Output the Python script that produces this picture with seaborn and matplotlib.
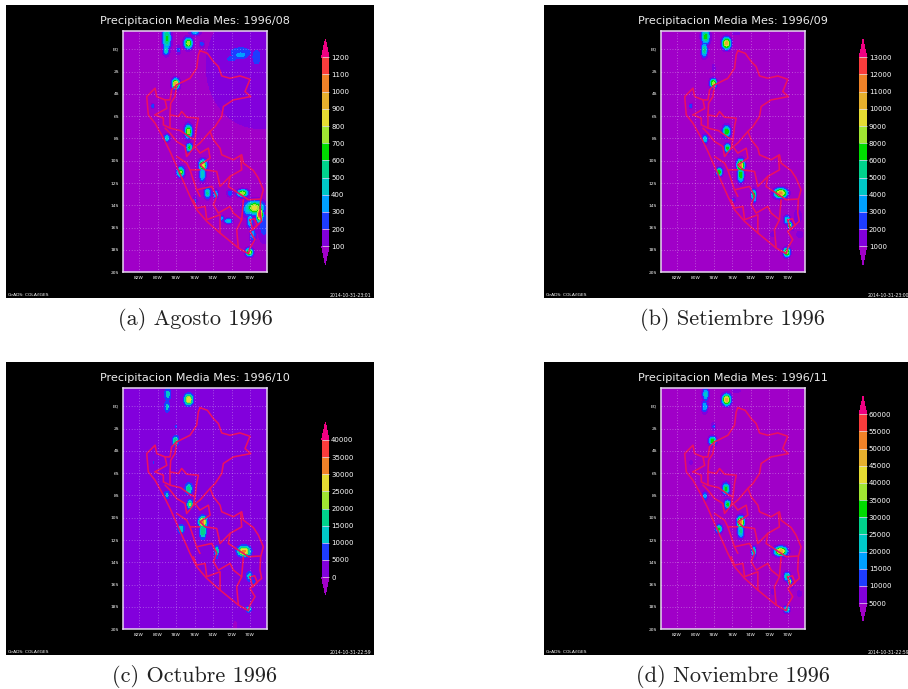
import numpy as np
import matplotlib
matplotlib.use('Agg')
import matplotlib.pyplot as plt
import seaborn as sns

W, H = 908, 689
# GrADS default rainbow
rainbow = ['#a000c8', '#8200dc', '#1e3cff', '#00a0ff', '#00c8c8', '#00d28c', '#00dc00',
           '#a0e632', '#e6dc32', '#e6af2d', '#f08228', '#fa3c3c', '#f00082']
rainbow_oct = ['#a000c8', '#8200dc', '#1e3cff', '#00c8c8', '#00d28c', '#a0e632',
               '#e6dc32', '#f08228', '#fa3c3c', '#f00082']
border_color = '#ec1060'

# month labels
titles = ['Precipitacion Media Mes: 1996/08', 'Precipitacion Media Mes: 1996/09',
          'Precipitacion Media Mes: 1996/10', 'Precipitacion Media Mes: 1996/11']
captions = ['(a) Agosto 1996', '(b) Setiembre 1996', '(c) Octubre 1996', '(d) Noviembre 1996']
stamps = ['2014-10-31-23:01', '2014-10-31-23:00', '2014-10-31-22:59', '2014-10-31-22:59']

# colorbar levels as printed
levels_aug = [100, 200, 300, 400, 500, 600, 700, 800, 900, 1000, 1100, 1200]
levels_sep = [1000, 2000, 3000, 4000, 5000, 6000, 8000, 9000, 10000, 11000, 12000, 13000]
levels_oct = [0, 5000, 10000, 15000, 20000, 25000, 30000, 35000, 40000]
levels_nov = [5000, 10000, 15000, 20000, 25000, 30000, 35000, 40000, 45000, 50000, 55000, 60000]

# background rain per month
base_aug, base_sep, base_oct, base_nov = 50, 500, 1500, 2500

# rain cells: lon, lat, peak, width lon, width lat
cells_aug = [(-79.0, 1.0, 620, .28, .7), (-79.08, -.06, 480, .2, .31), (-76.67, .54, 800, .28, .31),
             (-75.95, 1.5, 360, .35, .17), (-75.2, .48, 250, .17, .21), (-77.75, -.06, 230, .17, .28),
             (-78.04, -3.1, 1000, .24, .28), (-80.52, -5.07, 300, .1, .14), (-76.67, -7.37, 800, .24, .38),
             (-76.56, -8.8, 620, .2, .24), (-79.0, -7.97, 450, .2, .21), (-75.1, -10.4, 900, .25, .31),
             (-75.15, -11.2, 500, .2, .42), (-77.5, -11.0, 720, .24, .28), (-74.6, -12.9, 520, .21, .31),
             (-73.7, -13.0, 420, .17, .24), (-72.16, -12.9, 280, .2, .2), (-70.8, -12.9, 800, .36, .2),
             (-75.95, -13.6, 230, .14, .28), (-69.5, -14.2, 850, .63, .39), (-68.95, -14.8, 1200, .21, .42),
             (-70.18, -14.3, 500, .35, .42), (-72.34, -15.4, 450, .28, .14), (-73.06, -15.15, 350, .14, .14),
             (-70.0, -15.4, 420, .21, .42), (-69.7, -16.6, 350, .21, .42), (-70.07, -18.2, 800, .24, .22),
             (-69.0, -1.5, 190, 4.0, 3.9), (-71.0, -.5, 350, .7, .28), (-72.0, -.85, 280, .42, .21),
             (-71.0, -.3, 240, 1.5, .63), (-69.3, -.7, 230, .63, 1.0), (-68.5, -15.7, 270, .42, 1.0)]
cells_sep = [(-78.9, 1.13, 6500, .28, .42), (-79.05, -.06, 5500, .2, .42), (-76.63, .54, 11000, .28, .31),
             (-78.07, -3.04, 9000, .21, .24), (-80.5, -5.07, 3000, .1, .14), (-76.63, -7.37, 7500, .24, .31),
             (-76.52, -8.87, 6500, .2, .24), (-78.97, -8.06, 4500, .18, .24), (-75.1, -10.4, 11500, .24, .31),
             (-75.1, -11.25, 7000, .21, .42), (-77.42, -11.0, 7000, .2, .22), (-73.68, -13.05, 7000, .15, .28),
             (-73.6, -13.5, 3500, .11, .17), (-70.76, -12.9, 11500, .42, .25), (-75.9, -13.5, 2200, .14, .14),
             (-70.07, -15.3, 5000, .21, .24), (-69.8, -15.75, 9000, .11, .17), (-69.55, -15.9, 3000, .14, .21),
             (-71.6, -16.6, 1800, .17, .17), (-70.1, -18.2, 9000, .21, .24), (-78.04, -1.7, 1500, .14, .28),
             (-68.9, -15.0, 1400, .35, .56), (-68.7, -16.6, 1300, .35, .28), (-75.6, 1.43, 1300, .42, .14)]
cells_oct = [(-78.9, 1.07, 13000, .22, .35), (-78.97, -.03, 12000, .18, .35), (-76.63, .6, 29000, .28, .31),
             (-78.0, -1.8, 6000, .08, .17), (-78.04, -3.1, 18000, .21, .28), (-80.45, -5.05, 5500, .08, .14),
             (-76.63, -7.4, 17000, .24, .32), (-76.49, -8.8, 21000, .18, .24), (-79.0, -7.95, 11000, .17, .24),
             (-75.1, -10.4, 32000, .27, .32), (-75.1, -11.2, 20000, .21, .42), (-77.46, -11.0, 15000, .22, .25),
             (-73.6, -13.0, 17000, .14, .28), (-73.6, -13.45, 7000, .11, .21), (-70.65, -13.0, 32000, .42, .28),
             (-70.07, -15.25, 13000, .2, .28), (-69.64, -15.85, 9000, .11, .21), (-70.15, -18.2, 15000, .17, .17),
             (-71.6, -19.7, -2000, .21, .42), (-69.0, -19.5, -300, .08, .14)]
cells_nov = [(-78.9, 1.07, 22000, .21, .38), (-79.0, -.03, 20000, .2, .35), (-76.63, .6, 50000, .28, .31),
             (-78.04, -1.8, 11000, .14, .24), (-78.15, -3.1, 35000, .24, .24), (-80.5, -5.05, 8000, .11, .14),
             (-76.7, -7.4, 32000, .24, .32), (-76.52, -8.8, 32000, .2, .24), (-78.97, -8.05, 18000, .18, .24),
             (-75.1, -10.4, 52000, .24, .32), (-75.1, -11.2, 27000, .21, .39), (-77.46, -11.0, 32000, .21, .22),
             (-73.68, -13.0, 30000, .14, .25), (-73.6, -13.4, 11000, .11, .21), (-70.76, -13.0, 50000, .42, .25),
             (-70.07, -15.25, 28000, .21, .24), (-69.8, -15.7, 45000, .1, .14), (-69.55, -16.0, 11000, .14, .21),
             (-71.6, -16.65, 7000, .17, .21), (-68.75, -16.8, 7500, .21, .21), (-70.1, -18.2, 28000, .2, .18),
             (-75.6, 1.4, 7000, .42, .14)]

# Peru outline and department lines, lon/lat
outline = [(-75.41, -.12), (-74.61, -.36), (-73.96, -1.1), (-73.42, -1.55), (-73.06, -2.39), (-72.16, -2.6),
           (-71.08, -2.39), (-70, -2.69), (-70.54, -3.79), (-69.93, -4.24), (-71.8, -4.54), (-72.88, -5.13),
           (-73.06, -6.03), (-73.78, -6.93), (-74.32, -7.37), (-73.96, -8.12), (-73.24, -8.87), (-73.06, -9.46),
           (-71.8, -9.91), (-70.9, -9.46), (-70.72, -10.21), (-69.64, -10.87), (-69.1, -11.55), (-68.56, -12.6),
           (-68.85, -13.49), (-68.92, -14.69), (-68.74, -15.43), (-70, -16.33), (-69.46, -17.07), (-70, -17.82),
           (-70.18, -18.33), (-71.26, -17.82), (-73.24, -16.48), (-74.68, -15.43), (-75.77, -14.39),
           (-76.49, -13.19), (-77.21, -11.85), (-77.93, -10.51), (-78.65, -9.16), (-79.37, -7.97), (-80.27, -6.63),
           (-81.0, -5.88), (-81.17, -4.24), (-80.27, -3.49), (-80.09, -4.24), (-79.19, -4.54), (-78.65, -4.54),
           (-78.47, -3.64), (-77.93, -3.19), (-76.49, -2.6), (-75.77, -1.7), (-75.59, -.51), (-75.41, -.12)]
dept_lines = [
    [(-77.93, -3.19), (-78.11, -4.24), (-78.58, -4.84), (-78.65, -5.88), (-77.75, -6.03), (-77.39, -5.58),
     (-76.85, -6.09), (-75.59, -6.18), (-75.77, -6.93), (-75.95, -8.12), (-76.13, -8.87)],
    [(-76.13, -8.87), (-75.4, -8.4), (-74.32, -7.37)],
    [(-75.95, -8.72), (-75.41, -9.31), (-74.5, -8.87), (-74.32, -9.76), (-75.41, -10.36), (-74.86, -10.81),
     (-73.6, -10.96), (-73.24, -12.3), (-72.16, -11.4), (-70.9, -10.81), (-71.0, -9.61)],
    [(-72.16, -11.4), (-72.34, -12.3), (-71.26, -12.9), (-70.18, -13.49), (-68.85, -13.43)],
    [(-70.72, -13.49), (-70.9, -15.28), (-71.44, -16.18), (-71.26, -17.82)],
    [(-80.27, -5.88), (-79.37, -6.18), (-79.37, -6.78), (-78.65, -7.07), (-78.65, -5.88)],
    [(-79.19, -4.54), (-79.0, -5.3), (-80.27, -5.88)],
    [(-79.19, -7.07), (-78.65, -7.52), (-77.93, -8.27), (-77.03, -8.72), (-76.85, -9.61), (-75.95, -8.72)],
    [(-78.65, -7.07), (-77.5, -7.3), (-76.5, -7.9), (-75.95, -8.12)],
    [(-77.93, -9.61), (-76.85, -10.21), (-76.49, -10.81), (-75.41, -10.81)],
    [(-76.49, -10.81), (-75.77, -12.6), (-75.41, -13.19)],
    [(-75.77, -12.6), (-74.14, -12.3), (-73.6, -13.19), (-73.96, -13.94), (-73.42, -14.69), (-72.16, -14.09),
     (-71.8, -14.69), (-70.9, -15.28)],
    [(-76.13, -13.49), (-75.77, -14.24), (-74.86, -14.09), (-74.68, -15.28), (-73.24, -14.84), (-73.24, -16.48)],
    [(-70.0, -15.3), (-69.5, -15.2), (-69.2, -15.8), (-69.7, -16.2), (-70.0, -15.3)],
]

lon_ticks = [-82, -80, -78, -76, -74, -72, -70]
lon_labels = ['82W', '80W', '78W', '76W', '74W', '72W', '70W']
lat_ticks = [0, -2, -4, -6, -8, -10, -12, -14, -16, -18, -20]
lat_labels = ['EQ', '2S', '4S', '6S', '8S', '10S', '12S', '14S', '16S', '18S', '20S']

sns.set_theme(style='dark')
fig = plt.figure(figsize=(W / 100, H / 100), dpi=100, facecolor='white')


def px_axes(x0, y0, x1, y1):
    """axes from pixel box, y going down"""
    return fig.add_axes([x0 / W, 1 - y1 / H, (x1 - x0) / W, (y1 - y0) / H])


def rain_field(lon, lat, base, cells):
    field = np.full(lon.shape, float(base))
    dry = np.zeros(lon.shape)
    for clon, clat, peak, sx, sy in cells:
        bump = (peak - base) * np.exp(-((lon - clon) / sx) ** 2 / 2 - ((lat - clat) / sy) ** 2 / 2)
        if peak < base:
            dry += bump
        else:
            field = np.maximum(field, base + bump)
    return field + dry


def draw_panel(i, box, cbar_box, levels, colors, base, cells, tipfrac):
    x0, y0, x1, y1 = box
    # black GrADS page
    page_r = 374 if x0 < 400 else 908
    page = px_axes(x0 - 116.7, y0 - 26, page_r, y1 + 26)
    page.set_facecolor('black')
    page.set_xticks([])
    page.set_yticks([])
    for s in page.spines.values():
        s.set_visible(False)

    ax = px_axes(x0, y0, x1, y1)
    lon, lat = np.meshgrid(np.arange(-83.77, -68.1, .04), np.arange(-20, 1.66, .04))
    cs = ax.contourf(lon, lat, rain_field(lon, lat, base, cells), levels=levels, colors=colors, extend='both')
    for line in [outline] + dept_lines:
        pts = np.array(line)
        sns.lineplot(x=pts[:, 0], y=pts[:, 1], sort=False, estimator=None, color=border_color,
                     lw=1.15, ax=ax, legend=False)
    ax.set_xlim(-83.77, -68.13)
    ax.set_ylim(-20, 1.64)
    ax.set_xticks(lon_ticks, lon_labels)
    ax.set_yticks(lat_ticks, lat_labels)
    ax.tick_params(length=0, pad=2.5, labelsize=3.2, labelcolor='white')
    ax.grid(True, color='white', ls=(0, (1, 3)), lw=.5, alpha=.6)
    ax.set_axisbelow(False)
    for s in ax.spines.values():
        s.set_visible(True)
        s.set_color('#e6d8f0')
        s.set_linewidth(1.1)

    cx = (x0 + x1) / 2
    fig.text(cx / W, 1 - (y0 - 10) / H, titles[i], color='#ececec', fontsize=8.1, ha='center', va='center')
    fig.text((x0 - 114.5) / W, 1 - (y1 + 22.7) / H, 'GrADS: COLA/IGES', color='white', fontsize=3.2, va='center')
    fig.text((x0 + 206.5) / W, 1 - (y1 + 22.7) / H, stamps[i], color='white', fontsize=3.3, va='center')
    fig.text(cx / W, 1 - (y1 + 47) / H, captions[i], color='#222222', fontsize=16, family='cmr10',
             ha='center', va='center')

    cax = px_axes(*cbar_box)
    cb = fig.colorbar(cs, cax=cax, extendfrac=tipfrac, spacing='uniform', ticks=levels, drawedges=True)
    cb.ax.set_yticklabels([str(v) for v in levels])
    cb.ax.tick_params(length=0, pad=1.5, labelsize=5, labelcolor='white')
    cb.outline.set_visible(False)
    cb.dividers.set_color('#e6d8f0')
    cb.dividers.set_linewidth(.5)


draw_panel(0, (122.7, 31, 267.3, 272.3), (321.7, 39.3, 329, 264.3), levels_aug, rainbow, base_aug, cells_aug, .095)
draw_panel(1, (660.7, 31, 805, 272.3), (859.3, 39.3, 866.7, 264.3), levels_sep, rainbow, base_sep, cells_sep, .095)
draw_panel(2, (122.7, 388, 267.3, 629.3), (321.7, 422.7, 329, 594.3), levels_oct, rainbow_oct, base_oct, cells_oct, .125)
draw_panel(3, (660.7, 388, 805, 629.3), (859.3, 396.3, 866.7, 621), levels_nov, rainbow, base_nov, cells_nov, .095)

fig.savefig('out.png', dpi=100, facecolor='white')
